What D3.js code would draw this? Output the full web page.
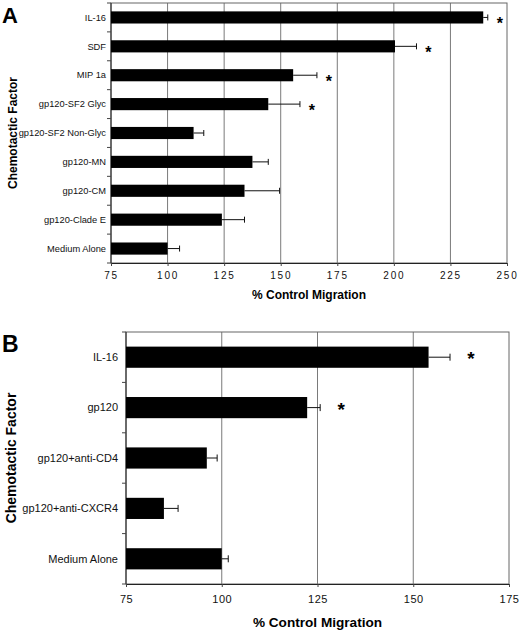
<!DOCTYPE html>
<html>
<head>
<meta charset="utf-8">
<script src="https://cdn.jsdelivr.net/npm/d3@7"></script>
<style>
  body { margin: 0; background: #fff; }
  svg { display: block; font-family: "Liberation Sans", Arial, sans-serif; }
</style>
</head>
<body>
<svg id="chart" width="520" height="632"></svg>
<script>

//
// Data
//
var catsA = ['IL-16', 'SDF', 'MIP 1a', 'gp120-SF2 Glyc', 'gp120-SF2 Non-Glyc',
             'gp120-MN', 'gp120-CM', 'gp120-Clade E', 'Medium Alone'];
var valsA = [239.5, 200.5, 155.5, 144.5, 111.5, 137.5, 134, 124, 100];
var errsA = [2, 9.5, 10.5, 14, 4.5, 7, 15.5, 10, 5.3];
var sigA  = [true, true, true, true, false, false, false, false, false];
var ticksA = [75, 100, 125, 150, 175, 200, 225, 250];

var catsB = ['IL-16', 'gp120', 'gp120+anti-CD4', 'gp120+anti-CXCR4', 'Medium Alone'];
var valsB = [154, 122.3, 96.1, 84.9, 100];
var errsB = [5.6, 3.4, 2.7, 3.7, 1.7];
var sigB  = [true, true, false, false, false];
var ticksB = [75, 100, 125, 150, 175];

var xTitle = '% Control Migration';
var yTitle = 'Chemotactic Factor';

var svg = d3.select('#chart');

function drawPanel(p) {
    var g = svg.append('g');

    var x = d3.scaleLinear()
        .domain([p.ticks[0], p.ticks[p.ticks.length - 1]])
        .range([p.left, p.right]);

    var y = d3.scaleBand()
        .domain(p.cats)
        .range([p.top, p.bottom])
        .paddingInner(0.58)
        .paddingOuter(0.29);

    // grid lines
    g.selectAll('line.grid')
        .data(p.ticks.slice(1, -1))
        .enter().append('line')
        .attr('class', 'grid')
        .attr('x1', function (d) { return x(d); })
        .attr('x2', function (d) { return x(d); })
        .attr('y1', p.top)
        .attr('y2', p.bottom)
        .style('stroke', '#7a7a7a')
        .style('stroke-width', 1);

    // plot box
    g.append('rect')
        .attr('x', p.left)
        .attr('y', p.top)
        .attr('width', p.right - p.left)
        .attr('height', p.bottom - p.top)
        .style('fill', 'none')
        .style('stroke', '#666')
        .style('stroke-width', 1);

    // x axis
    var xAxis = d3.axisBottom(x).tickValues(p.ticks).tickSize(3).tickPadding(p.tickPad);
    var ax = g.append('g')
        .attr('transform', 'translate(0,' + p.bottom + ')')
        .call(xAxis);
    ax.select('.domain').style('stroke', '#222');
    ax.selectAll('.tick line').style('stroke', '#444');
    ax.selectAll('.tick text')
        .style('font-size', p.tickFont + 'px')
        .style('letter-spacing', p.tickSpacing + 'px')
        .style('font-family', '"Liberation Sans", Arial, sans-serif')
        .style('fill', '#111');

    // left axis line + ticks between categories
    g.append('line')
        .attr('x1', p.left).attr('x2', p.left)
        .attr('y1', p.top).attr('y2', p.bottom)
        .style('stroke', '#222');
    g.selectAll('line.ctick')
        .data(d3.range(p.cats.length + 1))
        .enter().append('line')
        .attr('class', 'ctick')
        .attr('x1', p.left - 4).attr('x2', p.left)
        .attr('y1', function (i) { return p.top + i * y.step(); })
        .attr('y2', function (i) { return p.top + i * y.step(); })
        .style('stroke', '#444');

    // category labels
    g.selectAll('text.cat')
        .data(p.cats)
        .enter().append('text')
        .attr('class', 'cat')
        .attr('x', p.left - p.labelGap)
        .attr('y', function (d) { return y(d) + y.bandwidth() / 2; })
        .attr('dy', '0.35em')
        .attr('text-anchor', 'end')
        .style('font-size', p.catFont + 'px')
        .style('fill', '#111')
        .text(function (d) { return d; });

    // error bars (right side only)
    var eb = g.selectAll('g.err')
        .data(p.cats)
        .enter().append('g')
        .attr('class', 'err')
        .style('stroke', '#111')
        .style('stroke-width', 1);
    eb.append('line')
        .attr('x1', function (d, i) { return x(p.vals[i]); })
        .attr('x2', function (d, i) { return x(p.vals[i] + p.errs[i]); })
        .attr('y1', function (d) { return y(d) + y.bandwidth() / 2; })
        .attr('y2', function (d) { return y(d) + y.bandwidth() / 2; });
    eb.append('line')
        .attr('x1', function (d, i) { return x(p.vals[i] + p.errs[i]); })
        .attr('x2', function (d, i) { return x(p.vals[i] + p.errs[i]); })
        .attr('y1', function (d) { return y(d) + y.bandwidth() / 2 - p.cap; })
        .attr('y2', function (d) { return y(d) + y.bandwidth() / 2 + p.cap; });

    // bars
    g.selectAll('rect.bar')
        .data(p.cats)
        .enter().append('rect')
        .attr('class', 'bar')
        .attr('x', x(p.ticks[0]))
        .attr('y', function (d) { return y(d); })
        .attr('width', function (d, i) { return x(p.vals[i]) - x(p.ticks[0]); })
        .attr('height', y.bandwidth())
        .style('fill', '#000');

    // significance stars
    g.selectAll('text.star')
        .data(p.cats.filter(function (d, i) { return p.sig[i]; }))
        .enter().append('text')
        .attr('class', 'star')
        .attr('x', function (d) {
            var i = p.cats.indexOf(d);
            return x(p.vals[i] + p.errs[i]) + p.starGap;
        })
        .attr('y', function (d) { return y(d) + y.bandwidth() / 2 + p.starDy; })
        .attr('text-anchor', 'middle')
        .style('font-size', p.starFont + 'px')
        .style('font-weight', 'bold')
        .style('fill', '#000')
        .text('*');

    // axis titles
    g.append('text')
        .attr('x', (p.left + p.right) / 2)
        .attr('y', p.xTitleY)
        .attr('text-anchor', 'middle')
        .style('font-size', p.xTitleFont + 'px')
        .style('font-weight', 'bold')
        .style('fill', '#000')
        .text(xTitle);

    g.append('text')
        .attr('transform', 'translate(' + p.yTitleX + ',' + ((p.top + p.bottom) / 2) + ') rotate(-90)')
        .attr('text-anchor', 'middle')
        .style('font-size', p.yTitleFont + 'px')
        .style('font-weight', 'bold')
        .style('fill', '#000')
        .text(yTitle);

    // panel letter
    g.append('text')
        .attr('x', 2)
        .attr('y', p.letterY)
        .style('font-size', p.letterFont + 'px')
        .style('font-weight', 'bold')
        .style('fill', '#000')
        .text(p.letter);
}

drawPanel({
    letter: 'A', cats: catsA, vals: valsA, errs: errsA, sig: sigA, ticks: ticksA,
    left: 111, right: 507, top: 3, bottom: 263,
    tickFont: 10, tickSpacing: 1.8, tickPad: 6, catFont: 9.3, labelGap: 5,
    cap: 3, starGap: 12, starDy: 12, starFont: 16,
    xTitleY: 299, xTitleFont: 12, yTitleX: 17, yTitleFont: 12,
    letterY: 23, letterFont: 22
});

drawPanel({
    letter: 'B', cats: catsB, vals: valsB, errs: errsB, sig: sigB, ticks: ticksB,
    left: 126, right: 509, top: 332, bottom: 584,
    tickFont: 11, tickSpacing: 0.5, tickPad: 8, catFont: 11, labelGap: 8,
    cap: 3.5, starGap: 21, starDy: 8, starFont: 19,
    xTitleY: 627, xTitleFont: 13.6, yTitleX: 16, yTitleFont: 14,
    letterY: 352, letterFont: 23
});

</script>
</body>
</html>
